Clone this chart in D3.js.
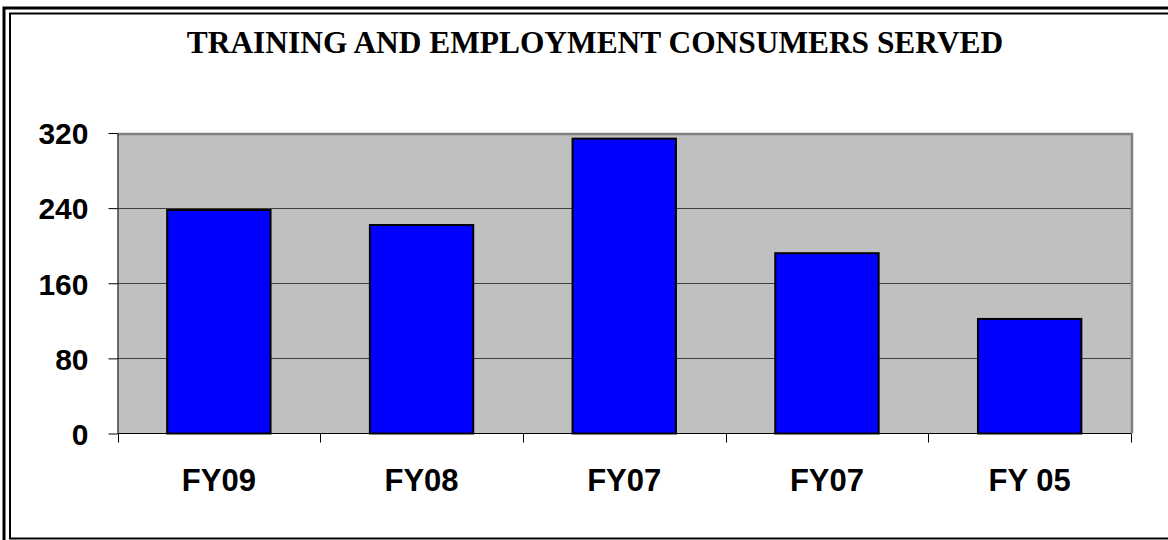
<!DOCTYPE html>
<html lang="en">
<head>
<meta charset="utf-8">
<title>Training and Employment Consumers Served</title>
<script type="text/javascript" src="https://d3js.org/d3.v7.min.js"></script>
<style>
  body { margin: 0; background: #fff; }
  svg { display: block; }
</style>
</head>
<body>
<div id="container"></div>
<script type="text/javascript">

var categories = ["FY09", "FY08", "FY07", "FY07", "FY 05"];
var served = [238, 222, 314, 192, 122];
var yTicks = [0, 80, 160, 240, 320];
var chartTitle = "TRAINING AND EMPLOYMENT CONSUMERS SERVED";

var w = 1168;
var h = 540;

var svg = d3.select("div#container").append("svg")
    .attr("width", w).attr("height", h);

// double frame round the whole chart (runs off right/bottom like the original)
svg.append("rect").attr("x", 4).attr("y", 8).attr("width", w + 20).attr("height", h + 20)
    .attr("fill", "none").attr("stroke", "#000").attr("stroke-width", 3);
svg.append("rect").attr("x", 10).attr("y", 13.5).attr("width", w + 20).attr("height", 525)
    .attr("fill", "none").attr("stroke", "#000").attr("stroke-width", 2);

// plot box (note: "top" is reserved on window, so use pTop etc.)
var pLeft = 117.5, pRight = 1131, pTop = 133, pBottom = 433.5;

var x = d3.scaleBand()
    .domain(d3.range(categories.length))
    .range([pLeft, pRight])
    .paddingInner(0.49)
    .paddingOuter(0.245);

var y = d3.scaleLinear().domain([0, 320]).range([pBottom, pTop]);

// plot area
svg.append("rect").attr("x", pLeft).attr("y", pTop)
    .attr("width", pRight - pLeft).attr("height", pBottom - pTop)
    .attr("fill", "#c0c0c0");

// gridlines
svg.selectAll("line.grid")
    .data(yTicks.slice(1, -1))
    .enter().append("line")
    .attr("class", "grid")
    .attr("x1", pLeft).attr("x2", pRight)
    .attr("y1", function(d) { return Math.round(y(d)) + 0.5; })
    .attr("y2", function(d) { return Math.round(y(d)) + 0.5; })
    .attr("stroke", "#404040").attr("stroke-width", 1);

// gray border top / right
svg.append("path")
    .attr("d", "M" + pLeft + "," + (pTop + 1) + "H" + (pRight + 1) + "V" + pBottom)
    .attr("fill", "none").attr("stroke", "#808080").attr("stroke-width", 2.5);

// bars
svg.selectAll("rect.bar")
    .data(served)
    .enter().append("rect")
    .attr("class", "bar")
    .attr("x", function(d, i) { return x(i); })
    .attr("width", x.bandwidth())
    .attr("y", function(d) { return y(d); })
    .attr("height", function(d) { return pBottom - y(d); })
    .attr("fill", "#0000ff")
    .attr("stroke", "#000").attr("stroke-width", 2);

// y axis
var yAxis = d3.axisLeft(y).tickValues(yTicks).tickSize(9).tickSizeOuter(0).tickPadding(20);
var gy = svg.append("g").attr("transform", "translate(" + pLeft + ",0)").call(yAxis);
gy.select(".domain").attr("stroke", "#000");
gy.selectAll(".tick line").attr("stroke", "#000");
gy.selectAll(".tick text")
    .attr("font-family", "'Liberation Sans', Arial, sans-serif")
    .attr("font-weight", "bold").attr("font-size", 30).attr("fill", "#000")
    .attr("dy", "0.36em");

// x axis baseline + ticks at category boundaries
svg.append("line").attr("x1", pLeft).attr("x2", pRight)
    .attr("y1", pBottom).attr("y2", pBottom)
    .attr("stroke", "#000").attr("stroke-width", 1);
var bounds = d3.range(categories.length + 1).map(function(i) { return pLeft + i * x.step(); });
svg.selectAll("line.xtick")
    .data(bounds)
    .enter().append("line")
    .attr("class", "xtick")
    .attr("x1", function(d) { return Math.round(d) + 0.5; })
    .attr("x2", function(d) { return Math.round(d) + 0.5; })
    .attr("y1", pBottom).attr("y2", pBottom + 9)
    .attr("stroke", "#000");

svg.selectAll("text.xlabel")
    .data(categories)
    .enter().append("text")
    .attr("class", "xlabel")
    .attr("x", function(d, i) { return x(i) + x.bandwidth() / 2; })
    .attr("y", 491)
    .attr("text-anchor", "middle")
    .attr("font-family", "'Liberation Sans', Arial, sans-serif")
    .attr("font-weight", "bold").attr("font-size", 31)
    .text(function(d) { return d; });

// title
svg.append("text")
    .attr("x", 595).attr("y", 53)
    .attr("text-anchor", "middle")
    .attr("font-family", "'Liberation Serif', 'Times New Roman', serif")
    .attr("font-weight", "bold").attr("font-size", 31.4)
    .text(chartTitle);

</script>
</body>
</html>
